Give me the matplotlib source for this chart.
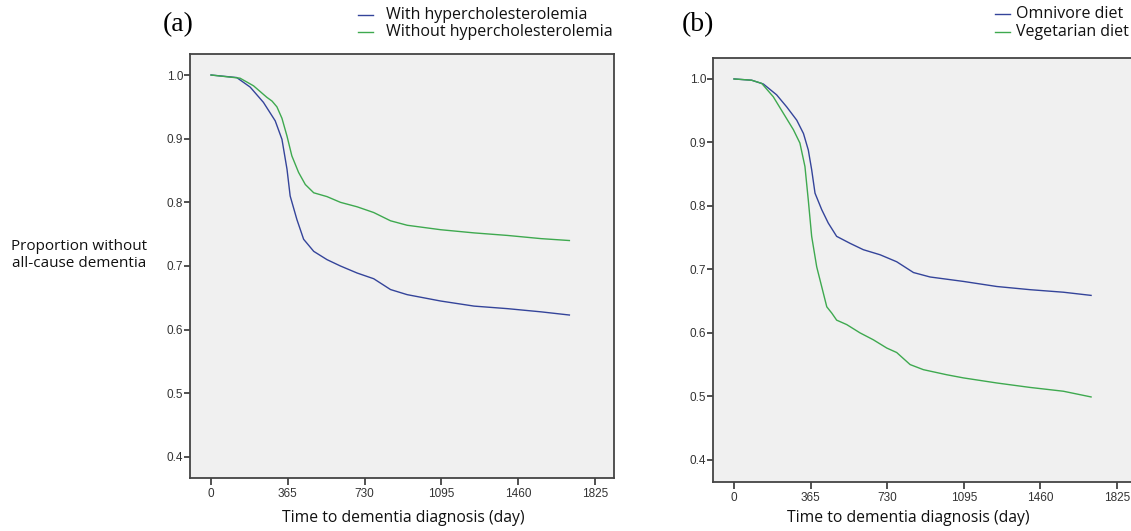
import matplotlib
matplotlib.use("Agg")
import matplotlib.pyplot as plt
from matplotlib.lines import Line2D

# ---------------- data ----------------
xticks = [0, 365, 730, 1095, 1460, 1825]
yticks = [0.4, 0.5, 0.6, 0.7, 0.8, 0.9, 1.0]

# Panel (a)
a_with_days = [0, 122, 186, 249, 305, 337, 361, 376, 408, 440, 488, 551, 615, 694, 773,
               853, 932, 1091, 1250, 1409, 1568, 1703]
a_with_surv = [1.0, 0.996, 0.981, 0.957, 0.928, 0.899, 0.852, 0.810, 0.773, 0.742, 0.723,
               0.710, 0.700, 0.689, 0.680, 0.663, 0.655, 0.645, 0.637, 0.633, 0.628, 0.623]
a_without_days = [0, 138, 202, 265, 290, 313, 337, 361, 384, 416, 448, 488, 551, 615, 694, 773,
                  853, 932, 1091, 1250, 1409, 1568, 1703]
a_without_surv = [1.0, 0.995, 0.983, 0.965, 0.959, 0.950, 0.932, 0.904, 0.873, 0.847, 0.828,
                  0.815, 0.809, 0.800, 0.793, 0.784, 0.771, 0.764, 0.757, 0.752, 0.748, 0.743,
                  0.740]
a_labels = ["With hypercholesterolemia", "Without hypercholesterolemia"]

# Panel (b)
b_omni_days = [0, 84, 140, 203, 251, 299, 331, 354, 370, 386, 418, 449, 489, 553, 616, 696,
               775, 855, 934, 1093, 1252, 1410, 1569, 1701]
b_omni_surv = [1.0, 0.998, 0.992, 0.975, 0.956, 0.935, 0.914, 0.888, 0.857, 0.820, 0.794,
               0.773, 0.752, 0.741, 0.731, 0.723, 0.712, 0.695, 0.688, 0.681, 0.673, 0.668,
               0.664, 0.659]
b_veg_days = [0, 84, 132, 187, 235, 283, 314, 338, 354, 370, 394, 426, 442, 466, 489, 537,
              600, 664, 728, 775, 839, 902, 1013, 1093, 1252, 1410, 1569, 1701]
b_veg_surv = [1.0, 0.998, 0.993, 0.972, 0.946, 0.920, 0.899, 0.862, 0.809, 0.752, 0.704,
              0.662, 0.641, 0.631, 0.620, 0.613, 0.600, 0.589, 0.576, 0.569, 0.550, 0.542,
              0.534, 0.529, 0.521, 0.514, 0.508, 0.499]
b_labels = ["Omnivore diet", "Vegetarian diet"]

panel_titles = ["(a)", "(b)"]
ylabel_text = "Proportion without\nall-cause dementia"
xlabel_text = "Time to dementia diagnosis (day)"

BLUE = "#34449a"
GREEN = "#3ea94f"

W, H = 1131, 531
fig = plt.figure(figsize=(W / 100, H / 100), dpi=100)
fig.patch.set_facecolor("white")

def fx(px):
    return px / W

def fy(py):
    return 1 - py / H

SANS = ["Open Sans", "DejaVu Sans"]
TICKF = ["Liberation Sans", "DejaVu Sans"]

def make_axes(left_px, top_px, bottom_px, width_px, ylim):
    ax = fig.add_axes([fx(left_px), fy(bottom_px), width_px / W, (bottom_px - top_px) / H])
    ax.set_facecolor("#f0f0f0")
    ax.set_xlim(-100, 1915)
    ax.set_ylim(*ylim)
    ax.set_xticks(xticks)
    ax.set_xticklabels([str(t) for t in xticks], fontfamily=TICKF, fontsize=8.5, color="#333333")
    ax.set_yticks(yticks)
    ax.set_yticklabels([f"{t:.1f}" for t in yticks], fontfamily=TICKF, fontsize=8.5, color="#333333")
    ax.tick_params(axis="y", direction="out", length=4.5, width=1.2, color="#333333", pad=0.5)
    ax.tick_params(axis="x", direction="out", length=5, width=1.2, color="#333333", pad=2.0)
    for s in ax.spines.values():
        s.set_color("#444444")
        s.set_linewidth(1.3)
    return ax

axA = make_axes(190, 54, 478, 424, (0.367, 1.033))
axA.plot(a_with_days, a_with_surv, color=BLUE, lw=1.0)
axA.plot(a_without_days, a_without_surv, color=GREEN, lw=1.0)

axB = make_axes(713, 58, 482, 423, (0.365, 1.033))
axB.plot(b_omni_days, b_omni_surv, color=BLUE, lw=1.0)
axB.plot(b_veg_days, b_veg_surv, color=GREEN, lw=1.0)

# panel letters
fig.text(fx(163), fy(25), panel_titles[0], fontfamily=["Liberation Serif"], fontsize=20,
         ha="left", va="center")
fig.text(fx(682), fy(25), panel_titles[1], fontfamily=["Liberation Serif"], fontsize=20,
         ha="left", va="center")

# legends (manual)
def legend(x_dash, x_text, ys, labels, colors):
    for y, lab, c in zip(ys, labels, colors):
        fig.add_artist(Line2D([fx(x_dash), fx(x_dash + 15)], [fy(y), fy(y)],
                              transform=fig.transFigure, color=c, lw=1.0))
        fig.text(fx(x_text), fy(y), lab, fontfamily=SANS, fontsize=11.5,
                 ha="left", va="center", color="#111111")

legend(358, 386, [15, 32], a_labels, [BLUE, GREEN])
legend(995, 1016, [14, 32], b_labels, [BLUE, GREEN])

# y label
fig.text(fx(79), fy(255), ylabel_text, fontfamily=SANS, fontsize=11, ha="center",
         va="center", linespacing=1.2, color="#111111")

# x labels
fig.text(fx(403), fy(518), xlabel_text, fontfamily=SANS, fontsize=11.3, ha="center",
         va="center", color="#111111")
fig.text(fx(908), fy(518), xlabel_text, fontfamily=SANS, fontsize=11.3, ha="center",
         va="center", color="#111111")

fig.savefig("out.png", dpi=100, facecolor="white")
